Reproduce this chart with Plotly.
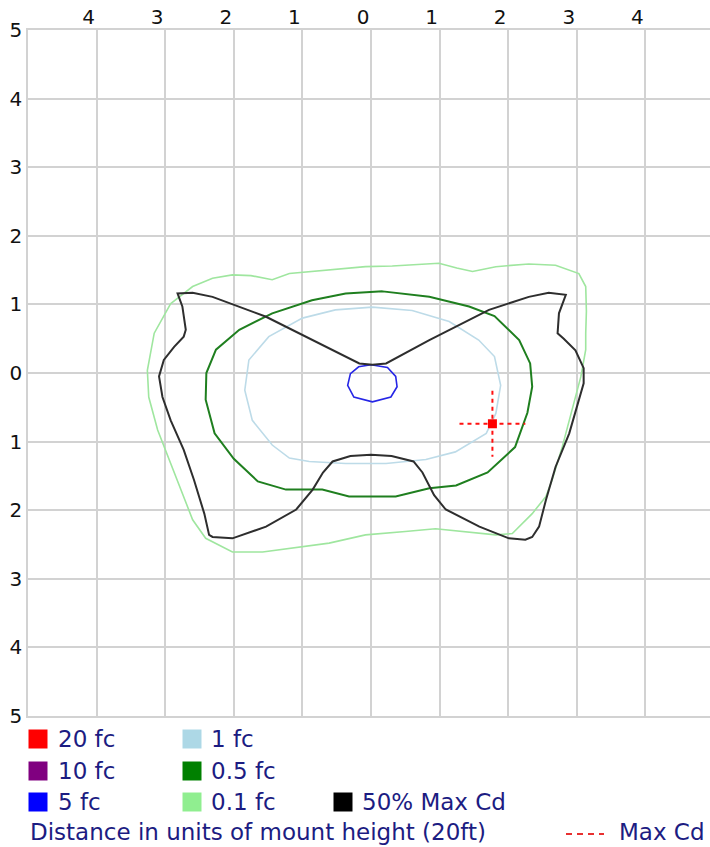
import plotly.graph_objects as go

# ---------------- data (units of mount height) ----------------
X_TICK_VALS = [-4, -3, -2, -1, 0, 1, 2, 3, 4]
X_TICK_TEXT = ["4", "3", "2", "1", "0", "1", "2", "3", "4"]
Y_TICK_VALS = [5, 4, 3, 2, 1, 0, -1, -2, -3, -4, -5]
Y_TICK_TEXT = ["5", "4", "3", "2", "1", "0", "1", "2", "3", "4", "5"]

# 0.1 fc contour
fc01_x = [-2.92, -2.60, -2.31, -2.02, -1.75, -1.44, -1.19, -0.61, -0.08, 0.31, 0.99, 1.25, 1.48, 1.82,
          2.30, 2.69, 3.03, 3.13, 3.14, 3.13, 3.13, 3.06, 2.93, 2.79, 2.64, 2.55, 2.35, 2.06, 1.82,
          1.33, 0.94, 0.50, -0.08, -0.61, -1.00, -1.58, -2.02, -2.41, -2.60, -2.75, -2.92, -3.11,
          -3.24, -3.26, -3.16, -2.92]
fc01_y = [1.01, 1.26, 1.38, 1.43, 1.42, 1.36, 1.45, 1.50, 1.55, 1.56, 1.60, 1.53, 1.48, 1.55,
          1.59, 1.57, 1.45, 1.26, 0.90, 0.58, 0.34, -0.05, -0.54, -1.07, -1.56, -1.80, -2.05, -2.34, -2.36,
          -2.31, -2.27, -2.31, -2.36, -2.48, -2.53, -2.61, -2.61, -2.41, -2.14, -1.75, -1.32, -0.83,
          -0.35, 0.04, 0.58, 1.01]

# 0.5 fc contour
fc05_x = [0.17, 0.85, 1.43, 1.80, 2.16, 2.32, 2.35, 2.28, 2.10, 1.70, 1.24, 0.85, 0.36, -0.32, -0.71,
          -1.24, -1.65, -2.00, -2.28, -2.41, -2.40, -2.26, -1.92, -1.44, -0.86, -0.37, 0.17]
fc05_y = [1.19, 1.11, 0.97, 0.83, 0.48, 0.14, -0.20, -0.58, -1.08, -1.45, -1.64, -1.68, -1.80, -1.80, -1.70,
          -1.70, -1.58, -1.25, -0.88, -0.39, 0.00, 0.34, 0.63, 0.87, 1.06, 1.16, 1.19]

# 1 fc contour
fc1_x = [0.02, 0.60, 1.14, 1.57, 1.80, 1.89, 1.82, 1.68, 1.23, 0.80, 0.22, -0.37, -0.90, -1.19, -1.44,
         -1.73, -1.84, -1.78, -1.49, -1.00, -0.52, 0.02]
fc1_y = [0.96, 0.91, 0.75, 0.48, 0.24, -0.18, -0.59, -0.88, -1.15, -1.26, -1.32, -1.32, -1.29, -1.24, -1.05,
         -0.69, -0.25, 0.19, 0.53, 0.80, 0.92, 0.96]

# 5 fc contour
fc5_x = [0.00, 0.24, 0.36, 0.38, 0.29, 0.02, -0.25, -0.34, -0.30, -0.18, 0.00]
fc5_y = [0.12, 0.08, -0.05, -0.20, -0.35, -0.42, -0.35, -0.18, -0.01, 0.09, 0.12]

# 50% max candela contour
cd50_x = [0.02, 0.22, 0.85, 1.72, 2.30, 2.59, 2.84, 2.74, 2.72, 2.81, 2.98, 3.10, 3.10, 3.03, 2.89, 2.69,
          2.55, 2.45, 2.35, 2.25, 2.01, 1.58, 1.09, 0.92, 0.75, 0.62, 0.30, 0.00, -0.30, -0.56, -0.70,
          -0.85, -1.09, -1.53, -2.02, -2.31, -2.36, -2.43, -2.58, -2.73, -2.92, -3.04, -3.09, -3.02,
          -2.87, -2.73, -2.70, -2.75, -2.82, -2.60, -2.31, -1.53, -0.85, -0.17, 0.02]
cd50_y = [0.12, 0.14, 0.48, 0.92, 1.11, 1.17, 1.14, 0.87, 0.58, 0.50, 0.33, 0.07, -0.15, -0.39, -0.88, -1.37,
          -1.85, -2.24, -2.39, -2.43, -2.41, -2.24, -1.99, -1.78, -1.45, -1.29, -1.21, -1.19, -1.21, -1.29, -1.45,
          -1.70, -1.99, -2.24, -2.41, -2.39, -2.36, -2.05, -1.56, -1.12, -0.69, -0.35, -0.05, 0.19,
          0.38, 0.53, 0.63, 0.97, 1.16, 1.17, 1.11, 0.82, 0.48, 0.14, 0.12]

# max candela point
MAX_CD_X = 1.77
MAX_CD_Y = -0.74
CROSS_HALF = 0.48

LEGEND_LABELS = ["20 fc", "10 fc", "5 fc", "1 fc", "0.5 fc", "0.1 fc", "50% Max Cd"]
LEGEND_COLORS = ["#ff0000", "#800080", "#0000ff", "#add8e6", "#008000", "#90ee90", "#000000"]
AXIS_NOTE = "Distance in units of mount height (20ft)"
MAX_CD_LABEL = "Max Cd"

# ---------------- layout helpers ----------------
W, H = 710, 847
L, R, T, B = 28, 0, 30, 131
PW, PH = W - L - R, H - T - B
FONT = "DejaVu Sans"
TEXT_BLUE = "#1c1c82"
TXT = 23


def pxx(px):
    return (px - L) / PW


def pxy(py):
    return (T + PH - py) / PH


fig = go.Figure()

lines = [
    (fc01_x, fc01_y, "#9fe69f", 1.6),
    (fc1_x, fc1_y, "#bddbe8", 1.6),
    (fc05_x, fc05_y, "#1f7f1f", 2.0),
    (fc5_x, fc5_y, "#2626e6", 1.6),
    (cd50_x, cd50_y, "#2e2e2e", 2.0),
]
for xs, ys, col, w in lines:
    fig.add_trace(go.Scatter(x=xs, y=ys, mode="lines", line=dict(color=col, width=w),
                             hoverinfo="skip", showlegend=False))

# max cd crosshair
fig.add_trace(go.Scatter(x=[MAX_CD_X - CROSS_HALF, MAX_CD_X + CROSS_HALF], y=[MAX_CD_Y, MAX_CD_Y],
                         mode="lines", line=dict(color="#ff1010", width=2, dash="4px,4px"),
                         hoverinfo="skip", showlegend=False))
fig.add_trace(go.Scatter(x=[MAX_CD_X, MAX_CD_X], y=[MAX_CD_Y + CROSS_HALF, MAX_CD_Y - CROSS_HALF],
                         mode="lines", line=dict(color="#ff1010", width=2, dash="4px,4px"),
                         hoverinfo="skip", showlegend=False))
fig.add_trace(go.Scatter(x=[MAX_CD_X], y=[MAX_CD_Y], mode="markers",
                         marker=dict(symbol="square", size=9, color="#ff0000"),
                         hoverinfo="skip", showlegend=False))

# legend block (squares + labels)
col_sq = [38, 38, 38, 192, 192, 192, 343]
col_tx = [56, 56, 56, 209, 209, 209, 360]
row_y = [739, 771, 802, 739, 771, 802, 802]
SQ = 19
shapes = []
annotations = []
for i, lab in enumerate(LEGEND_LABELS):
    cx, cy = col_sq[i], row_y[i]
    shapes.append(dict(type="rect", xref="paper", yref="paper",
                       x0=pxx(cx - SQ / 2), x1=pxx(cx + SQ / 2),
                       y0=pxy(cy + SQ / 2), y1=pxy(cy - SQ / 2),
                       fillcolor=LEGEND_COLORS[i], line=dict(width=0)))
    annotations.append(dict(text=lab, xref="paper", yref="paper", x=pxx(col_tx[i]), y=pxy(cy),
                            xanchor="left", yanchor="middle", showarrow=False,
                            font=dict(family=FONT, size=TXT, color=TEXT_BLUE)))

annotations.append(dict(text=AXIS_NOTE, xref="paper", yref="paper", x=pxx(28), y=pxy(832),
                        xanchor="left", yanchor="middle", showarrow=False,
                        font=dict(family=FONT, size=TXT, color=TEXT_BLUE)))
annotations.append(dict(text=MAX_CD_LABEL, xref="paper", yref="paper", x=pxx(707), y=pxy(832),
                        xanchor="right", yanchor="middle", showarrow=False,
                        font=dict(family=FONT, size=TXT, color=TEXT_BLUE)))
shapes.append(dict(type="line", xref="paper", yref="paper", x0=pxx(566), x1=pxx(604),
                   y0=pxy(834), y1=pxy(834), line=dict(color="#e83030", width=2, dash="6px,5px")))

GRID = "#d2d2d2"
fig.update_layout(
    width=W, height=H,
    margin=dict(l=L, r=R, t=T, b=B, pad=0),
    paper_bgcolor="white", plot_bgcolor="white",
    shapes=shapes, annotations=annotations,
    xaxis=dict(range=[-5, -5 + PW / (PH / 10)], side="top", tickvals=X_TICK_VALS, ticktext=X_TICK_TEXT,
               showgrid=True, gridcolor=GRID, gridwidth=1.5, zeroline=False,
               showline=True, linecolor=GRID, linewidth=1.5, mirror=True,
               ticks="", ticklabelshift=-8, ticklabelstandoff=-4,
               tickfont=dict(family=FONT, size=20, color="#111111"), fixedrange=True),
    yaxis=dict(range=[-5, 5], tickvals=Y_TICK_VALS, ticktext=Y_TICK_TEXT,
               showgrid=True, gridcolor=GRID, gridwidth=1.5, zeroline=False,
               showline=True, linecolor=GRID, linewidth=1.5, mirror=False,
               ticks="", ticklabelstandoff=0,
               tickfont=dict(family=FONT, size=20, color="#111111"), fixedrange=True),
)

fig.write_html("out.html", config={"displayModeBar": False},
               post_script="document.body.style.margin='0';document.body.style.overflow='hidden';")
